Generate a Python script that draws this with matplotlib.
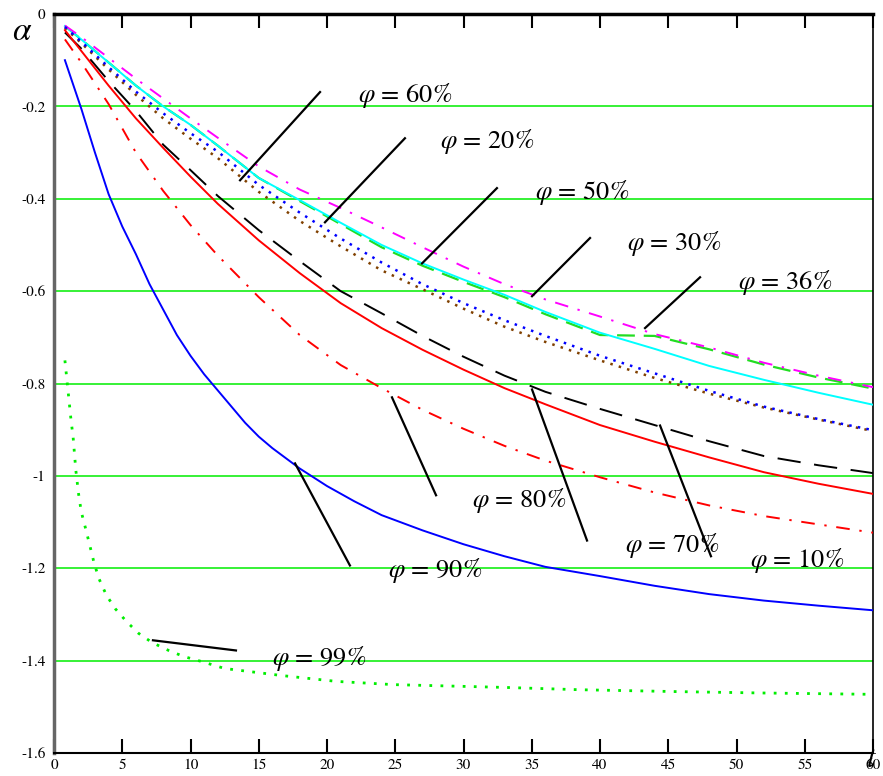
import matplotlib
matplotlib.use("Agg")
import matplotlib.pyplot as plt

plt.rcParams['font.family'] = ['STIXGeneral', 'DejaVu Serif']
plt.rcParams['mathtext.fontset'] = 'stix'

# time grid shared by the upper curves
t = [0.8, 2, 4, 6, 8, 10, 12, 15, 18, 21, 24, 27, 30, 33, 36, 40, 44, 48, 52, 56, 60]

a_red = [-0.035, -0.08, -0.155, -0.226, -0.29, -0.352, -0.411, -0.49, -0.561, -0.626, -0.68,
         -0.727, -0.77, -0.81, -0.845, -0.89, -0.926, -0.96, -0.992, -1.017, -1.039]
a_black = [-0.04, -0.075, -0.145, -0.21, -0.283, -0.338, -0.394, -0.468, -0.535, -0.60, -0.648,
           -0.697, -0.742, -0.783, -0.818, -0.855, -0.89, -0.925, -0.957, -0.977, -0.994]
a_reddash = [-0.055, -0.105, -0.195, -0.30, -0.383, -0.457, -0.523, -0.613, -0.695, -0.76, -0.81,
             -0.857, -0.898, -0.935, -0.967, -1.003, -1.036, -1.064, -1.087, -1.105, -1.123]
a_cyan = [-0.026, -0.055, -0.105, -0.155, -0.20, -0.24, -0.285, -0.355, -0.403, -0.452, -0.50,
          -0.54, -0.575, -0.608, -0.645, -0.69, -0.725, -0.762, -0.792, -0.82, -0.846]
a_magenta = [-0.025, -0.05, -0.095, -0.14, -0.183, -0.226, -0.268, -0.33, -0.38, -0.42, -0.462,
             -0.505, -0.547, -0.585, -0.618, -0.655, -0.693, -0.722, -0.755, -0.783, -0.808]
a_green = [-0.026, -0.055, -0.105, -0.155, -0.20, -0.24, -0.285, -0.355, -0.405, -0.455, -0.505,
           -0.545, -0.58, -0.613, -0.65, -0.695, -0.697, -0.726, -0.759, -0.787, -0.811]
a_bluedot = [-0.028, -0.06, -0.115, -0.168, -0.215, -0.258, -0.298, -0.37, -0.43, -0.486, -0.538,
             -0.585, -0.626, -0.663, -0.697, -0.74, -0.778, -0.816, -0.85, -0.877, -0.901]
a_brown = [-0.03, -0.063, -0.12, -0.175, -0.226, -0.27, -0.312, -0.385, -0.448, -0.503, -0.555,
           -0.596, -0.638, -0.677, -0.71, -0.75, -0.788, -0.822, -0.852, -0.878, -0.903]

# phi = 90% bends sharply, read on a finer grid
t90 = [0.8, 2, 3, 4, 5, 6, 7, 8, 9, 10, 11, 12, 13, 14, 15, 16, 18, 20, 22, 24, 27, 30, 33,
       36, 40, 44, 48, 52, 56, 60]
a90 = [-0.10, -0.205, -0.30, -0.39, -0.46, -0.52, -0.585, -0.64, -0.695, -0.74, -0.78, -0.815,
       -0.85, -0.885, -0.915, -0.94, -0.984, -1.022, -1.055, -1.085, -1.118, -1.148, -1.174,
       -1.197, -1.217, -1.238, -1.256, -1.27, -1.281, -1.291]

# phi = 99% has its own, denser time grid
t99 = [0.8, 1.05, 1.25, 1.4, 1.6, 1.8, 2.0, 2.35, 2.65, 2.95, 3.3, 3.85, 4.5, 5.3, 6.2, 7.2,
       8.4, 9.5, 10.7, 12.5, 16.6, 20.7, 24.9, 29, 33, 38.5, 45.5, 51.7, 60]
a99 = [-0.75, -0.822, -0.88, -0.916, -0.988, -1.039, -1.078, -1.118, -1.154, -1.19, -1.223,
       -1.259, -1.288, -1.315, -1.341, -1.361, -1.378, -1.391, -1.401, -1.417, -1.432, -1.445,
       -1.452, -1.455, -1.458, -1.463, -1.467, -1.47, -1.473]

# labels with leader lines: (line start, line end, text position)
labels = ['60%', '20%', '50%', '30%', '36%', '80%', '70%', '10%', '90%', '99%']
lead_t0 = [19.49, 25.71, 32.45, 39.27, 47.33, 24.76, 35.02, 44.40, 17.66, 7.25]
lead_a0 = [-0.169, -0.269, -0.377, -0.485, -0.570, -0.830, -0.813, -0.891, -0.973, -1.356]
lead_t1 = [13.63, 19.85, 26.96, 35.02, 43.30, 27.99, 39.05, 48.13, 21.68, 13.33]
lead_a1 = [-0.360, -0.451, -0.540, -0.611, -0.680, -1.042, -1.140, -1.174, -1.194, -1.378]
text_t = [22.27, 28.28, 35.24, 41.98, 50.11, 30.62, 41.83, 50.99, 24.47, 15.97]
text_a = [-0.176, -0.277, -0.386, -0.496, -0.581, -1.053, -1.151, -1.183, -1.205, -1.395]

yticks = [0, -0.2, -0.4, -0.6, -0.8, -1.0, -1.2, -1.4, -1.6]
ylabels = ['0', '-0.2', '-0.4', '-0.6', '-0.8', '-1', '-1.2', '-1.4', '-1.6']
xticks = list(range(0, 61, 5))

fig = plt.figure(figsize=(8.83, 7.76), dpi=100)
ax = fig.add_axes([54 / 883, 23 / 776, 819 / 883, 739 / 776])

for y in yticks:
    ax.axhline(y, color='#00ee00', lw=1.1, zorder=1)

ax.plot(t, a_green, color='#22dd22', lw=1.6, ls=(0, (8, 4)), zorder=2)
ax.plot(t, a_cyan, color='#00ffff', lw=1.4, zorder=3)
ax.plot(t, a_magenta, color='#ff00ff', lw=1.4, ls=(0, (7, 5, 1.2, 5)), zorder=3)
ax.plot(t, a_brown, color='#804000', lw=1.8, ls=(0, (1, 2.5)), zorder=3)
ax.plot(t, a_bluedot, color='#0000ff', lw=1.8, ls=(0, (1, 2.5)), zorder=3)
ax.plot(t, a_black, color='black', lw=1.4, ls=(0, (12, 7)), zorder=3)
ax.plot(t, a_red, color='#ff0000', lw=1.4, zorder=3)
ax.plot(t, a_reddash, color='#ff0000', lw=1.4, ls=(0, (7, 5, 1.2, 5)), zorder=3)
ax.plot(t90, a90, color='#0000ff', lw=1.4, zorder=3)
ax.plot(t99, a99, color='#00ee00', lw=2, ls=(0, (1, 3)), zorder=3)

for i in range(len(labels)):
    ax.plot([lead_t0[i], lead_t1[i]], [lead_a0[i], lead_a1[i]], color='black', lw=1.6, zorder=4)
    ax.text(text_t[i], text_a[i], r'$\varphi$ = ' + labels[i], fontsize=19,
            ha='left', va='center', zorder=5)

ax.set_xlim(0, 60)
ax.set_ylim(-1.6, 0)
ax.set_yticks(yticks)
ax.set_yticklabels(ylabels, fontsize=11)
ax.set_xticks(xticks)
ax.set_xticklabels([str(x) for x in xticks], fontsize=11)
ax.tick_params(axis='y', length=0, pad=6)
ax.tick_params(axis='x', direction='in', length=10, width=1.5, top=True, pad=4)

ax.spines['left'].set_color('#666666')
ax.spines['left'].set_linewidth(2.5)
ax.spines['top'].set_linewidth(2.5)
ax.spines['bottom'].set_linewidth(1.5)
ax.spines['right'].set_linewidth(1.2)

fig.text(22 / 883, 1 - 32 / 776, r'$\alpha$', fontsize=24, ha='center', va='center')
fig.text(872 / 883, 1 - 760 / 776, r'$t$', fontsize=22, ha='center', va='center')

fig.savefig('out.png', dpi=100)
